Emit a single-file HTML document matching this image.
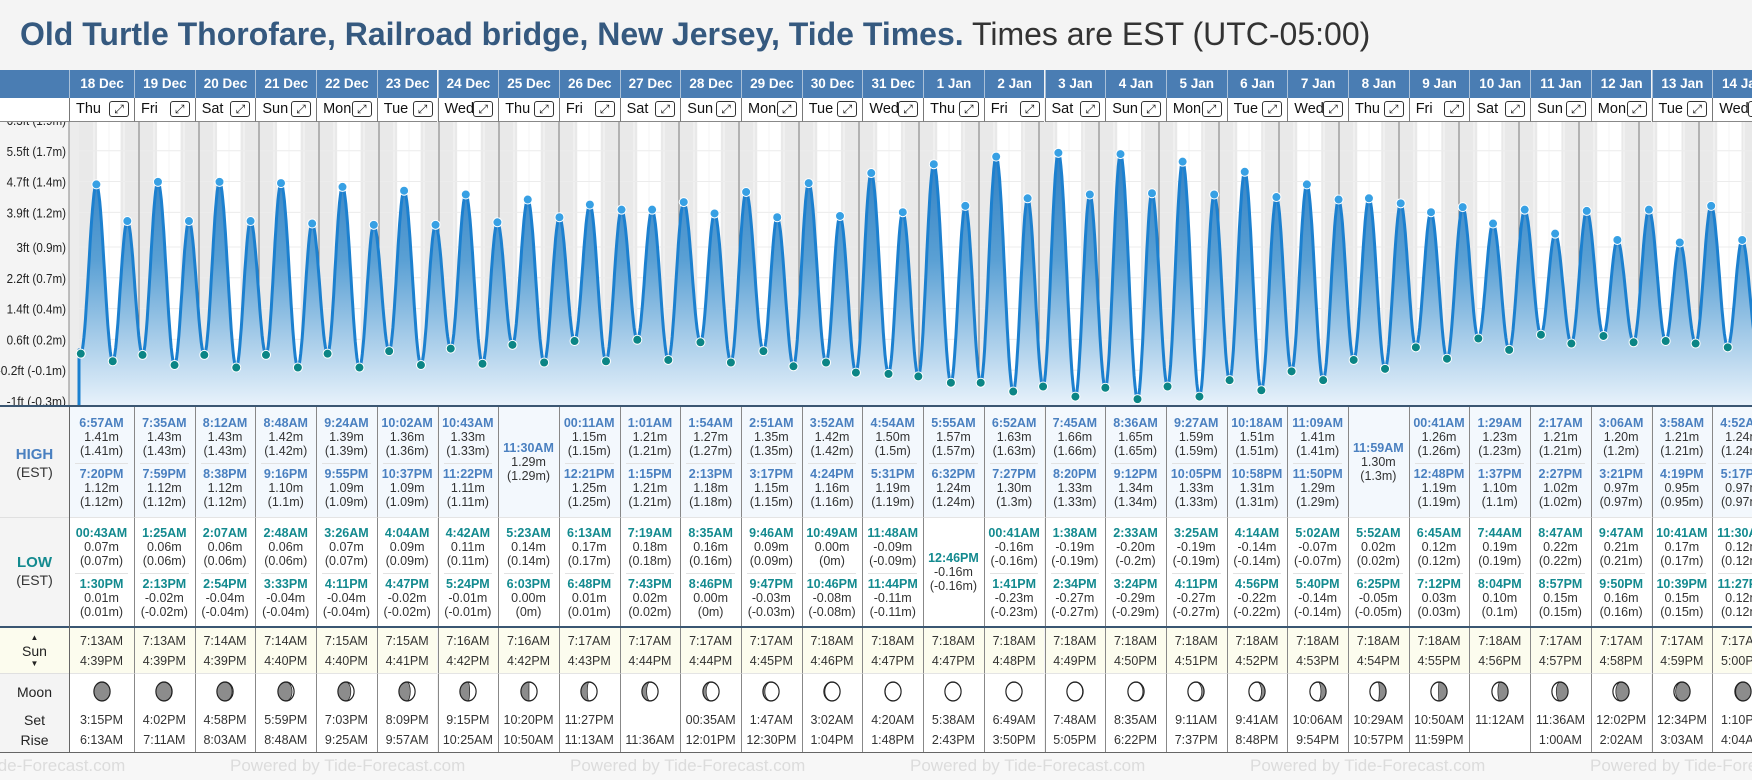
<!DOCTYPE html>
<html><head><meta charset="utf-8">
<style>
body{margin:0;width:1752px;height:780px;overflow:hidden;background:#f4f4f4;font-family:"Liberation Sans",sans-serif;position:relative}
.a{position:absolute}
.c{position:absolute;text-align:center;white-space:nowrap}
</style></head><body>
<div class="a" style="left:20px;top:14px;font-size:32px;white-space:nowrap;line-height:40px"><b style="color:#35597f">Old Turtle Thorofare, Railroad bridge, New Jersey, Tide Times.</b> <span style="color:#333">Times are EST (UTC-05:00)</span></div>
<div class="a" style="left:0;top:70px;width:69px;height:28px;background:#4a7db3"></div>
<svg id="chart" class="a" style="left:0;top:0" width="1752" height="780"></svg>
<div class="a" style="left:0;top:98px;width:69px;height:24px;background:#fff;border-bottom:1px solid #888;box-sizing:border-box"></div>
<div id="tbl"></div>
<script>
const days=['18 Dec','19 Dec','20 Dec','21 Dec','22 Dec','23 Dec','24 Dec','25 Dec','26 Dec','27 Dec','28 Dec','29 Dec','30 Dec','31 Dec','1 Jan','2 Jan','3 Jan','4 Jan','5 Jan','6 Jan','7 Jan','8 Jan','9 Jan','10 Jan','11 Jan','12 Jan','13 Jan','14 Jan'];
const weekdays=['Thu','Fri','Sat','Sun','Mon','Tue','Wed'];
const highDay=[0,0,1,1,2,2,3,3,4,4,5,5,6,6,7,8,8,9,9,10,10,11,11,12,12,13,13,14,14,15,15,16,16,17,17,18,18,19,19,20,20,21,22,22,23,23,24,24,25,25,26,26,27,27];
const highTime=['6:57AM','7:20PM','7:35AM','7:59PM','8:12AM','8:38PM','8:48AM','9:16PM','9:24AM','9:55PM','10:02AM','10:37PM','10:43AM','11:22PM','11:30AM','00:11AM','12:21PM','1:01AM','1:15PM','1:54AM','2:13PM','2:51AM','3:17PM','3:52AM','4:24PM','4:54AM','5:31PM','5:55AM','6:32PM','6:52AM','7:27PM','7:45AM','8:20PM','8:36AM','9:12PM','9:27AM','10:05PM','10:18AM','10:58PM','11:09AM','11:50PM','11:59AM','00:41AM','12:48PM','1:29AM','1:37PM','2:17AM','2:27PM','3:06AM','3:21PM','3:58AM','4:19PM','4:52AM','5:17PM'];
const highVal=[1.41,1.12,1.43,1.12,1.43,1.12,1.42,1.10,1.39,1.09,1.36,1.09,1.33,1.11,1.29,1.15,1.25,1.21,1.21,1.27,1.18,1.35,1.15,1.42,1.16,1.50,1.19,1.57,1.24,1.63,1.30,1.66,1.33,1.65,1.34,1.59,1.33,1.51,1.31,1.41,1.29,1.30,1.26,1.19,1.23,1.10,1.21,1.02,1.20,0.97,1.21,0.95,1.24,0.97];
const lowDay=[0,0,1,1,2,2,3,3,4,4,5,5,6,6,7,7,8,8,9,9,10,10,11,11,12,12,13,13,14,15,15,16,16,17,17,18,18,19,19,20,20,21,21,22,22,23,23,24,24,25,25,26,26,27,27];
const lowTime=['00:43AM','1:30PM','1:25AM','2:13PM','2:07AM','2:54PM','2:48AM','3:33PM','3:26AM','4:11PM','4:04AM','4:47PM','4:42AM','5:24PM','5:23AM','6:03PM','6:13AM','6:48PM','7:19AM','7:43PM','8:35AM','8:46PM','9:46AM','9:47PM','10:49AM','10:46PM','11:48AM','11:44PM','12:46PM','00:41AM','1:41PM','1:38AM','2:34PM','2:33AM','3:24PM','3:25AM','4:11PM','4:14AM','4:56PM','5:02AM','5:40PM','5:52AM','6:25PM','6:45AM','7:12PM','7:44AM','8:04PM','8:47AM','8:57PM','9:47AM','9:50PM','10:41AM','10:39PM','11:30AM','11:27PM'];
const lowVal=[0.07,0.01,0.06,-0.02,0.06,-0.04,0.06,-0.04,0.07,-0.04,0.09,-0.02,0.11,-0.01,0.14,0.00,0.17,0.01,0.18,0.02,0.16,0.00,0.09,-0.03,0.00,-0.08,-0.09,-0.11,-0.16,-0.16,-0.23,-0.19,-0.27,-0.20,-0.29,-0.19,-0.27,-0.14,-0.22,-0.07,-0.14,0.02,-0.05,0.12,0.03,0.19,0.10,0.22,0.15,0.21,0.16,0.17,0.15,0.12,0.12];
const sunRise=['7:13AM','7:13AM','7:14AM','7:14AM','7:15AM','7:15AM','7:16AM','7:16AM','7:17AM','7:17AM','7:17AM','7:17AM','7:18AM','7:18AM','7:18AM','7:18AM','7:18AM','7:18AM','7:18AM','7:18AM','7:18AM','7:18AM','7:18AM','7:18AM','7:17AM','7:17AM','7:17AM','7:17AM'];
const sunSet=['4:39PM','4:39PM','4:39PM','4:40PM','4:40PM','4:41PM','4:42PM','4:42PM','4:43PM','4:44PM','4:44PM','4:45PM','4:46PM','4:47PM','4:47PM','4:48PM','4:49PM','4:50PM','4:51PM','4:52PM','4:53PM','4:54PM','4:55PM','4:56PM','4:57PM','4:58PM','4:59PM','5:00PM'];
const moonSet=['3:15PM','4:02PM','4:58PM','5:59PM','7:03PM','8:09PM','9:15PM','10:20PM','11:27PM','','00:35AM','1:47AM','3:02AM','4:20AM','5:38AM','6:49AM','7:48AM','8:35AM','9:11AM','9:41AM','10:06AM','10:29AM','10:50AM','11:12AM','11:36AM','12:02PM','12:34PM','1:10PM'];
const moonRise=['6:13AM','7:11AM','8:03AM','8:48AM','9:25AM','9:57AM','10:25AM','10:50AM','11:13AM','11:36AM','12:01PM','12:30PM','1:04PM','1:48PM','2:43PM','3:50PM','5:05PM','6:22PM','7:37PM','8:48PM','9:54PM','10:57PM','11:59PM','','1:00AM','2:02AM','3:03AM','4:04AM'];
const tickFt=[6.3,5.5,4.7,3.9,3,2.2,1.4,0.6,-0.2,-1];
const tickM=['1.9','1.7','1.4','1.2','0.9','0.7','0.4','0.2','-0.1','-0.3'];

const NS='http://www.w3.org/2000/svg';
const svg=document.getElementById('chart');
const X0=79,DW=60,CT=122,CB=406;
function hrs(t){const m=t.match(/(\d+):(\d+)(AM|PM)/);let h=(+m[1])%12;if(m[3]=='PM')h+=12;return h+(+m[2])/60;}
function xT(d,h){return X0+(d+h/24)*DW;}
function yM(m){return 401-(m*3.28084+1)*38.5;}
function yFt(f){return 401-(f+1)*38.5;}
function mk(tag,at,parent){const e=document.createElementNS(NS,tag);for(const k in at)e.setAttribute(k,at[k]);(parent||svg).appendChild(e);return e;}
function fmt(v){return v.toFixed(2)+'m';}
function fmtP(v){let s=String(parseFloat(v.toFixed(2)));if(s=='-0')s='0';return '('+s+'m)';}

const defs=mk('defs',{});
const g=mk('linearGradient',{id:'fillg',x1:0,y1:140,x2:0,y2:CB,gradientUnits:'userSpaceOnUse'},defs);
mk('stop',{offset:'0','stop-color':'#2c7cc0'},g);
mk('stop',{offset:'0.45','stop-color':'#5aa0d4'},g);
mk('stop',{offset:'1','stop-color':'#e8f2fb'},g);
const clip=mk('clipPath',{id:'cc'},defs);mk('rect',{x:69,y:CT,width:1683,height:CB-CT},clip);

let r=mk('rect',{x:69,y:CT,width:1683,height:CB-CT,fill:'#ffffff'});

mk('rect',{x:69,y:CT,width:10,height:CB-CT,fill:'#ececec'});
for(let d=0;d<days.length;d++){
  const sr=xT(d,hrs(sunRise[d])),ss=xT(d,hrs(sunSet[d]));
  let n1=mk('rect',{x:xT(d,0),y:CT,width:sr-xT(d,0),height:CB-CT,fill:'#e9e9e9'});
  
  let n2=mk('rect',{x:ss,y:CT,width:xT(d+1,0)-ss,height:CB-CT,fill:'#e9e9e9'});
  
  for(const h of [6,12,18])mk('line',{x1:xT(d,h),x2:xT(d,h),y1:CT,y2:CB,stroke:'#f6f6f6','stroke-width':1});
}
for(let i=0;i<tickFt.length;i++){const y=yFt(tickFt[i]);mk('line',{x1:69,x2:1752,y1:y,y2:y,stroke:'#ececec','stroke-width':1});}
for(let d=1;d<=days.length;d++){let l=mk('line',{x1:xT(d,0),x2:xT(d,0),y1:CT,y2:CB,stroke:'#7a7a7a','stroke-width':1});}
for(let i=0;i<tickFt.length;i++){
  const s=tickFt[i]+'ft ('+tickM[i]+'m)';
  const t=mk('text',{x:66,y:yFt(tickFt[i])+5,'text-anchor':'end','font-size':13,fill:'#222','font-family':'Liberation Sans, sans-serif',textLength:(s.length*4.95).toFixed(1),lengthAdjust:'spacingAndGlyphs'});
  t.textContent=s;
  
}
mk('line',{x1:69,x2:69,y1:CT,y2:CB,stroke:'#888'});
const ex=[];
for(let i=0;i<highDay.length;i++)ex.push({x:xT(highDay[i],hrs(highTime[i])),v:highVal[i],h:1});
for(let i=0;i<lowDay.length;i++)ex.push({x:xT(lowDay[i],hrs(lowTime[i])),v:lowVal[i],h:0});
ex.sort((a,b)=>a.x-b.x);
let pts=[[X0,yM(ex[0].v+0.03)]];
for(let i=0;i<ex.length-1;i++){const a=ex[i],b=ex[i+1];for(let k=0;k<=20;k++){const t=k/20;const v=a.v+(b.v-a.v)*(1-Math.cos(Math.PI*t))/2;pts.push([a.x+(b.x-a.x)*t,yM(v)]);}}
let dl='M'+pts.map(p=>p[0].toFixed(1)+','+p[1].toFixed(1)).join('L');
const area=mk('path',{d:dl+'L'+pts[pts.length-1][0]+','+CB+'L'+X0+','+CB+'Z',fill:'url(#fillg)','clip-path':'url(#cc)'});

const line=mk('path',{d:'M'+X0+','+CB+'L'+dl.slice(1),fill:'none',stroke:'#1c80cf','stroke-width':3,'stroke-linejoin':'round','clip-path':'url(#cc)'});

for(const e of ex){
  const c=mk('circle',{cx:e.x,cy:yM(e.v),r:4.5,fill:e.h?'#37a0e4':'#0b8585',stroke:'#fff','stroke-width':1,'clip-path':'url(#cc)'});
  
  
}
mk('rect',{x:0,y:405,width:1752,height:2,fill:'#3a5672'});

const tbl=document.getElementById('tbl');
function colX(i){return i==0?69:134+(i-1)*60.7;}
function colW(i){return i==0?65:60.7;}
function div(css,txt,parent){const e=document.createElement('div');e.className='a';e.style.cssText=css;if(txt!=null)e.textContent=txt;(parent||tbl).appendChild(e);return e;}
function ctxt(x,w,y,txt,css){const e=div('left:'+x+'px;width:'+w+'px;top:'+(y-9)+'px;height:18px;line-height:18px;text-align:center;white-space:nowrap;'+(css||''),txt);return e;}
let lb=div('left:0;top:407px;width:69px;height:345px;background:#f4f4f4');

let e=ctxt(0,69,455,'HIGH','font-weight:bold;color:#4a80c0;font-size:15px');
e=ctxt(0,69,472,'(EST)','color:#333;font-size:14px');
e=ctxt(0,69,563,'LOW','font-weight:bold;color:#138a8f;font-size:15px');
e=ctxt(0,69,580,'(EST)','color:#333;font-size:14px');
e=div('left:0;top:628px;width:69px;height:45px;background:#fcfcee');
e=ctxt(0,69,638,'▲','font-size:8px;color:#222');
e=ctxt(0,69,651,'Sun','font-size:14px;color:#222');
e=ctxt(0,69,664,'▼','font-size:8px;color:#222');
e=ctxt(0,69,692,'Moon','font-size:14px;color:#222');
e=ctxt(0,69,720,'Set','font-size:14px;color:#222');
e=ctxt(0,69,740,'Rise','font-size:14px;color:#222');

const newMoonDay=-0.4;
for(let i=0;i<days.length;i++){
  const x=colX(i),w=colW(i);
  const hd=div('left:'+x+'px;top:70px;width:'+w+'px;height:28px;background:#4a7db3;border-left:1px solid #a9c0d8;box-sizing:border-box;color:#fff;font-weight:bold;font-size:13.5px;line-height:28px;text-align:center',days[i]);
  
  const dn=div('left:'+x+'px;top:98px;width:'+w+'px;height:24px;background:#fff;border-left:1px solid #777;border-bottom:1px solid #888;box-sizing:border-box;font-size:14.5px;color:#111;line-height:23px;padding-left:6px;white-space:nowrap;overflow:hidden',weekdays[i%7]);
  
  const bx=div('left:'+(x+w-25)+'px;top:101px;width:20px;height:16px;border:1px solid #333;border-radius:3px;box-sizing:border-box;background:#fff;font-size:12px;line-height:14px;text-align:center;color:#111','⤢');
  
  const hb=div('left:'+x+'px;top:407px;width:'+w+'px;height:110px;background:#f3f8fd;border-left:1px solid #888;box-sizing:border-box');
  
  const lw=div('left:'+x+'px;top:517px;width:'+w+'px;height:110px;background:#fff;border-left:1px solid #888;border-top:1px solid #e4e4e4;box-sizing:border-box');
  
  const sb=div('left:'+x+'px;top:628px;width:'+w+'px;height:45px;background:#fcfcee;border-left:1px solid #888;box-sizing:border-box');
  
  const mb=div('left:'+x+'px;top:673px;width:'+w+'px;height:79px;background:#fff;border-left:1px solid #888;border-top:1px solid #e4e4e4;box-sizing:border-box');
  
  const hi=[];for(let k=0;k<highDay.length;k++)if(highDay[k]==i)hi.push(k);
  const lo=[];for(let k=0;k<lowDay.length;k++)if(lowDay[k]==i)lo.push(k);
  function entries(list,times,vals,base,color,nm){
    const ys=list.length==1?[base+41]:[base+16,base+67];
    if(list.length==2)div('left:'+(x+6)+'px;top:'+(base+56)+'px;width:'+(w-12)+'px;height:1px;background:#e2e2e2');
    list.forEach((k,j)=>{
      let t=ctxt(x,w,ys[j],times[k],'font-weight:bold;font-size:12.5px;color:'+color);
      
      t=ctxt(x,w,ys[j]+14,fmt(vals[k]),'font-size:12.5px;color:#333');
      
      t=ctxt(x,w,ys[j]+28,fmtP(vals[k]),'font-size:12.5px;color:#333');
      
    });
  }
  entries(hi,highTime,highVal,407,'#4a80c0','high-tide');
  entries(lo,lowTime,lowVal,517,'#138a8f','low-tide');
  let s=ctxt(x,w,641,sunRise[i],'font-size:12.5px;color:#333');
  s=ctxt(x,w,661,sunSet[i],'font-size:12.5px;color:#333');
  s=ctxt(x,w,720,moonSet[i],'font-size:12.5px;color:#333');
  s=ctxt(x,w,740,moonRise[i],'font-size:12.5px;color:#333');
  const cx=x+w/2,cy=691,R=9;
  const p=((((i-newMoonDay)/29.53)%1)+1)%1;
  const ms=document.createElementNS(NS,'svg');ms.setAttribute('width',18);ms.setAttribute('height',21);
  ms.setAttribute('viewBox','2 2 20 20');ms.setAttribute('preserveAspectRatio','none');
  ms.style.cssText='position:absolute;left:'+(cx-9)+'px;top:'+(cy-10.5)+'px';
  
  mk('circle',{cx:12,cy:12,r:R,fill:'#8c8c8c'},ms);
  const rx=(R*Math.abs(Math.cos(2*Math.PI*p))).toFixed(2);
  let d;
  if(p<0.5){d='M12,'+(12-R)+'A'+R+','+R+' 0 0 1 12,'+(12+R)+'A'+rx+','+R+' 0 0 '+(p<0.25?0:1)+' 12,'+(12-R)+'Z';}
  else{d='M12,'+(12-R)+'A'+R+','+R+' 0 0 0 12,'+(12+R)+'A'+rx+','+R+' 0 0 '+(p<0.75?0:1)+' 12,'+(12-R)+'Z';}
  mk('path',{d:d,fill:'#fff',stroke:'#222','stroke-width':0.8},ms);
  mk('circle',{cx:12,cy:12,r:R,fill:'none',stroke:'#222','stroke-width':1.3},ms);
  tbl.appendChild(ms);
}
let sep=div('left:0;top:626px;width:1752px;height:2px;background:#3a5672');
div('left:0;top:517px;width:69px;height:1px;background:#e0e0e0');
div('left:0;top:673px;width:69px;height:1px;background:#e0e0e0');
div('left:69px;top:407px;width:1px;height:345px;background:#666');
let ft=div('left:0;top:752px;width:1752px;height:28px;background:#f7f7f7;border-top:1px solid #666;box-sizing:border-box;overflow:hidden');

for(let k=0;k<6;k++){const t=div('left:'+(-110+k*340)+'px;top:3px;font-size:17px;color:#dcdcdc;white-space:nowrap','Powered by Tide-Forecast.com',ft);}
</script>
</body></html>
